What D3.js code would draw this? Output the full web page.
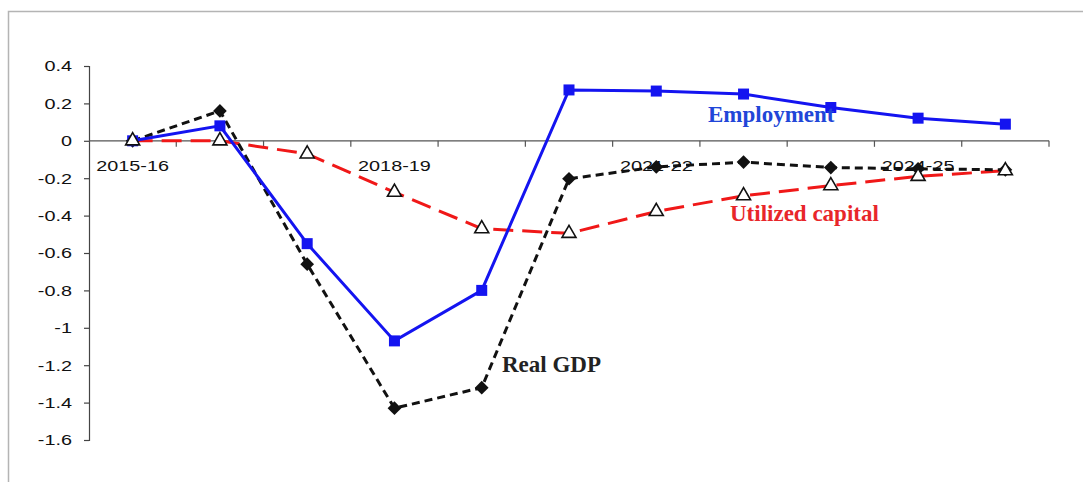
<!DOCTYPE html>
<html>
<head>
<meta charset="utf-8">
<script src="https://cdn.jsdelivr.net/npm/d3@7"></script>
<style>
  body { margin: 0; background: #fff; }
</style>
</head>
<body>
<div id="chart"></div>
<script>
const years = ['2015-16', '2016-17', '2017-18', '2018-19', '2019-20', '2020-21',
  '2021-22', '2022-23', '2023-24', '2024-25', '2025-26'];
const shownYears = ['2015-16', '2018-19', '2021-22', '2024-25'];
const yTicks = [0.4, 0.2, 0, -0.2, -0.4, -0.6, -0.8, -1, -1.2, -1.4, -1.6];

const employment = [0, 0.08, -0.55, -1.07, -0.8, 0.272, 0.266, 0.25, 0.178, 0.121, 0.089];
const realGdp = [0, 0.16, -0.66, -1.43, -1.32, -0.203, -0.14, -0.114, -0.143, -0.15, -0.155];
const capital = [0, 0, -0.07, -0.275, -0.47, -0.495, -0.378, -0.294, -0.24, -0.19, -0.16];

const width = 1083;
const height = 482;
const stretch = 1.28; // the picture's lettering is wider than normal

const svg = d3.select('#chart').append('svg')
  .attr('width', width).attr('height', height);

// grey frame round the chart, open at right and bottom
svg.append('path')
  .attr('d', 'M8.5,490 L8.5,11.5 L1090,11.5')
  .attr('fill', 'none')
  .attr('stroke', '#b4b4b4')
  .attr('stroke-width', 1.5);

const x = d3.scaleBand().domain(years).range([89, 1049]);
const y = d3.scaleLinear().domain([-1.6, 0.4]).range([440, 66]);
const cx = d => x(d) + x.bandwidth() / 2;

// y axis
const yAxis = svg.append('g')
  .attr('transform', 'translate(89,0)')
  .call(d3.axisLeft(y).tickValues(yTicks).tickSize(5)
    .tickFormat(d => String(+d.toFixed(1))));
yAxis.select('.domain').attr('stroke', '#444').attr('stroke-width', 1.2);
yAxis.selectAll('.tick line').attr('stroke', '#444').attr('stroke-width', 1.2);
yAxis.selectAll('text')
  .attr('x', -17 / stretch)
  .attr('transform', `scale(${stretch},1)`)
  .attr('font-family', 'Arial, "Liberation Sans", sans-serif')
  .attr('font-size', 15.5).attr('fill', '#111');

// x axis along zero, ticks at category boundaries
const xAxis = svg.append('g').attr('transform', `translate(0,${y(0)})`);
xAxis.append('line')
  .attr('x1', 89).attr('x2', 1049)
  .attr('stroke', '#555').attr('stroke-width', 1.2);
xAxis.selectAll('line.tk')
  .data(years)
  .join('line').attr('class', 'tk')
  .attr('x1', d => x(d) + x.bandwidth())
  .attr('x2', d => x(d) + x.bandwidth())
  .attr('y1', 0).attr('y2', 6)
  .attr('stroke', '#555').attr('stroke-width', 1.2);
xAxis.selectAll('text')
  .data(shownYears)
  .join('text')
  .attr('transform', d => `translate(${cx(d)},30) scale(${stretch},1)`)
  .attr('text-anchor', 'middle')
  .attr('font-family', 'Arial, "Liberation Sans", sans-serif')
  .attr('font-size', 15.5).attr('fill', '#111')
  .text(d => d);

const line = d3.line().x((d, i) => cx(years[i])).y(d => y(d));

// Utilized capital
svg.append('path')
  .datum(capital)
  .attr('d', line)
  .attr('fill', 'none')
  .attr('stroke', '#f01818')
  .attr('stroke-width', 3)
  .attr('stroke-dasharray', '20,9');

// Real GDP
svg.append('path')
  .datum(realGdp)
  .attr('d', line)
  .attr('fill', 'none')
  .attr('stroke', '#111')
  .attr('stroke-width', 3)
  .attr('stroke-dasharray', '8,5');

svg.selectAll('path.gdp')
  .data(realGdp)
  .join('path').attr('class', 'gdp')
  .attr('d', d3.symbol(d3.symbolDiamond2, 120))
  .attr('transform', (d, i) => `translate(${cx(years[i])},${y(d)})`)
  .attr('fill', '#111');

// Employment
svg.append('path')
  .datum(employment)
  .attr('d', line)
  .attr('fill', 'none')
  .attr('stroke', '#1414f0')
  .attr('stroke-width', 3);

svg.selectAll('rect.emp')
  .data(employment)
  .join('rect').attr('class', 'emp')
  .attr('x', (d, i) => cx(years[i]) - 5.5)
  .attr('y', d => y(d) - 5.5)
  .attr('width', 11).attr('height', 11)
  .attr('fill', '#1414f0');

// capital triangles on top
svg.selectAll('path.cap')
  .data(capital)
  .join('path').attr('class', 'cap')
  .attr('d', d3.symbol(d3.symbolTriangle, 85))
  .attr('transform', (d, i) => `translate(${cx(years[i])},${y(d)})`)
  .attr('fill', '#fff')
  .attr('stroke', '#111')
  .attr('stroke-width', 1.6);

// series labels
const labels = [
  { text: 'Employment', x: 708, y: 122, color: '#2146d8' },
  { text: 'Utilized capital', x: 730, y: 221, color: '#e8262a' },
  { text: 'Real GDP', x: 502, y: 372, color: '#222' }
];
svg.selectAll('text.lab')
  .data(labels)
  .join('text').attr('class', 'lab')
  .attr('x', d => d.x).attr('y', d => d.y)
  .attr('font-family', '"Liberation Serif", "Times New Roman", serif')
  .attr('font-weight', 'bold')
  .attr('font-size', 23)
  .attr('fill', d => d.color)
  .text(d => d.text);
</script>
</body>
</html>
